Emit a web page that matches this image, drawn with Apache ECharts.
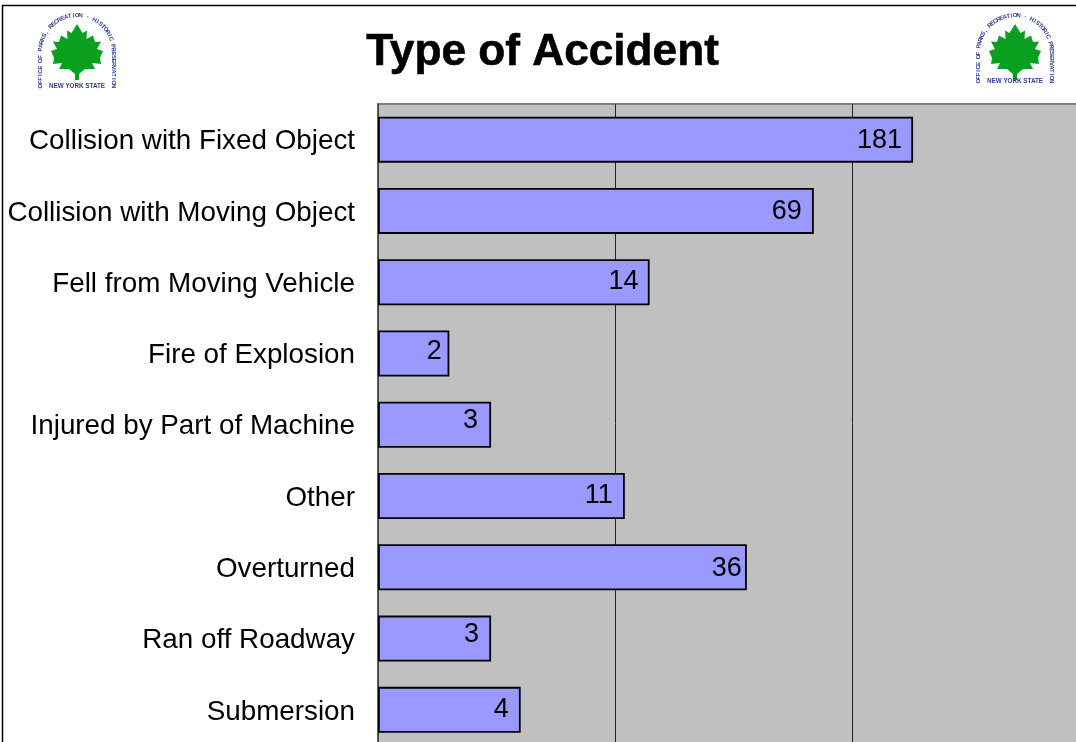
<!DOCTYPE html>
<html>
<head>
<meta charset="utf-8">
<style>html,body{margin:0;padding:0;background:#fff;overflow:hidden}#c{width:1076px;height:742px}</style>
<script src="https://cdn.jsdelivr.net/npm/echarts@6/dist/echarts.min.js"></script>
</head>
<body>
<div id="c"></div>
<script>
const categories = ['Collision with Fixed Object','Collision with Moving Object','Fell from Moving Vehicle','Fire of Explosion','Injured by Part of Machine','Other','Overturned','Ran off Roadway','Submersion'];
const values = [181,69,14,2,3,11,36,3,4];
const titleText = 'Type of Accident';

// small per-label nudges relative to the library's inside-right placement
const labelNudgeX = [0,-1,0,3.5,-2,-1,6,-1,-1];
const labelNudgeY = [1,1,-1,-2,-4,0,1,-4,0];

const leafRight = [[0,24],[5.5,33],[10,30.5],[9.5,39],[16,35.5],[18,42],[24,41.5],[20,49],[26,51],[23,58],[24,64],[15,63],[18,69],[8,69],[2,74],[2,80]];
function leafPoints(cx){
  const r = leafRight.map(p=>[cx+p[0],p[1]]);
  const l = leafRight.slice(1).reverse().map(p=>[cx-p[0],p[1]]);
  return r.concat(l);
}
function arcChars(text, cx, cy, R, bottom){
  const straight = bottom-cy, arc = Math.PI*R, total = 2*straight+arc;
  const out = [], n = text.length;
  for(let i=0;i<n;i++){
    const s=(i+0.5)/n*total; let x,y,rot;
    if(s<straight){x=cx-R;y=bottom-s;rot=Math.PI/2;}
    else if(s<straight+arc){const a=(s-straight)/R;x=cx-R*Math.cos(a);y=cy-R*Math.sin(a);rot=Math.PI/2-a;}
    else{x=cx+R;y=cy+(s-straight-arc);rot=-Math.PI/2;}
    out.push({type:'text',x,y,rotation:rot,silent:true,style:{text:text[i],font:'bold 6px "Liberation Sans"',fill:'#2f3f95',textAlign:'center',textVerticalAlign:'middle'}});
  }
  return out;
}
function logo(cx, bottom, labelY){
  return [
    {type:'polygon',silent:true,shape:{points:leafPoints(cx)},style:{fill:'#0a9f1e'}},
    ...arcChars('OFFICE OF PARKS, RECREATION · HISTORIC PRESERVATION',cx,52,36.5,bottom),
    {type:'text',x:cx,y:labelY,silent:true,style:{text:'NEW YORK STATE',font:'bold 6.3px "Liberation Sans"',fill:'#2f3f95',textAlign:'center',textVerticalAlign:'middle'}}
  ];
}

const chart = echarts.init(document.getElementById('c'),null,{renderer:'canvas'});
chart.setOption({
  animation:false,
  backgroundColor:'#ffffff',
  title:{text:titleText,left:537.5,top:26,textAlign:'center',textStyle:{fontFamily:'Liberation Sans',fontWeight:'bold',fontSize:44.2,color:'#000',textBorderColor:'#000',textBorderWidth:0.6}},
  grid:{show:true,left:378,top:104,width:711,height:641.5,outerBoundsMode:'none',backgroundColor:'#c0c0c0',borderColor:'#808080',borderWidth:2,containLabel:false},
  xAxis:{type:'log',logBase:10,min:1,max:1000,axisLine:{show:false},axisTick:{show:false},axisLabel:{show:false},minorTick:{show:false},
    splitLine:{show:true,lineStyle:{color:'#222',width:1}}},
  yAxis:{type:'category',data:categories,inverse:true,
    axisLine:{show:true,lineStyle:{color:'#555',width:1.5}},axisTick:{show:false},
    axisLabel:{margin:23,formatter:'{a|{value}}',rich:{a:{fontFamily:'Liberation Sans',fontSize:27.8,color:'#000',padding:[4,0,0,0]}}}},
  series:[{type:'bar',barWidth:46,
    data:values.map((v,i)=>({value:v,label:{offset:[labelNudgeX[i],labelNudgeY[i]]}})),
    itemStyle:{color:'#9999ff',borderColor:'#000',borderWidth:1.8},
    label:{show:true,position:'insideRight',distance:11,fontFamily:'Liberation Sans',fontSize:27,color:'#000'}}],
  graphic:[
    {type:'line',silent:true,shape:{x1:2,y1:5.5,x2:1076,y2:5.5},style:{stroke:'#000',lineWidth:1.5}},
    {type:'line',silent:true,shape:{x1:2.5,y1:5,x2:2.5,y2:742},style:{stroke:'#000',lineWidth:1.5}},
    ...logo(77,88,86),
    ...logo(1015,83,81)
  ]
});
</script>
</body>
</html>
